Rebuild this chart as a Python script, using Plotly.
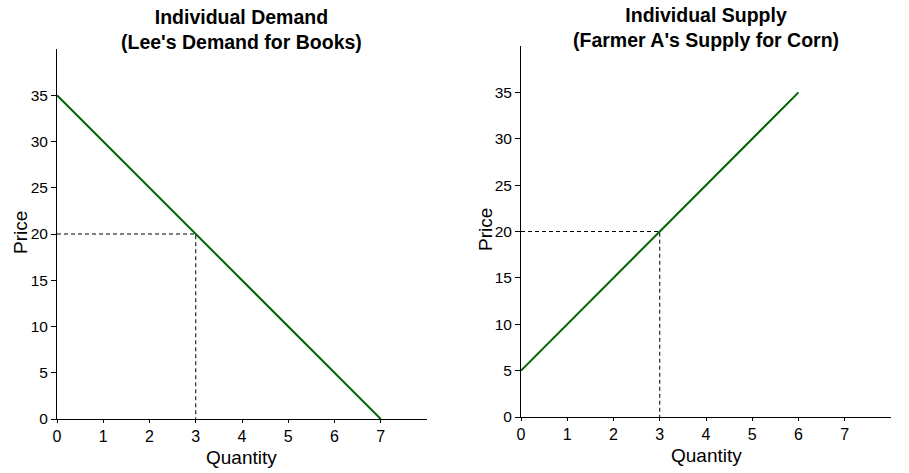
import plotly.graph_objects as go

# Data
demand_q = [0, 7]
demand_p = [35, 0]
supply_q = [0, 6]
supply_p = [5, 35]
ref_q = [0, 3, 3]
ref_p = [20, 20, 0]
x_ticks = [0, 1, 2, 3, 4, 5, 6, 7]
y_ticks = [0, 5, 10, 15, 20, 25, 30, 35]
titles = ["<b>Individual Demand<br>(Lee's Demand for Books)</b>",
          "<b>Individual Supply<br>(Farmer A's Supply for Corn)</b>"]
x_label = "Quantity"
y_label = "Price"

GREEN = "#006400"
fig = go.Figure()

fig.add_trace(go.Scatter(x=demand_q, y=demand_p, mode="lines",
                         line=dict(color=GREEN, width=2), xaxis="x", yaxis="y",
                         cliponaxis=False, showlegend=False))
fig.add_trace(go.Scatter(x=ref_q, y=ref_p, mode="lines",
                         line=dict(color="black", width=1, dash="4px,3px"), xaxis="x", yaxis="y",
                         showlegend=False))
fig.add_trace(go.Scatter(x=supply_q, y=supply_p, mode="lines",
                         line=dict(color=GREEN, width=2), xaxis="x2", yaxis="y2",
                         cliponaxis=False, showlegend=False))
fig.add_trace(go.Scatter(x=ref_q, y=ref_p, mode="lines",
                         line=dict(color="black", width=1, dash="4px,3px"), xaxis="x2", yaxis="y2",
                         showlegend=False))

font_family = "Liberation Sans, Arial, sans-serif"
base = dict(showgrid=False, zeroline=False, showline=True, linecolor="black",
            linewidth=1, ticks="outside", tickcolor="black", automargin=False)
xcommon = dict(base, ticklen=3, tickfont=dict(size=16, color="black", family=font_family))
ycommon = dict(base, ticklen=5, tickfont=dict(size=15.5, color="black", family=font_family))


def P(px, py):
    return px / 909, 1 - py / 473


annotations = []
for txt, (cx, cy) in zip(titles, [(241, 4), (706, 2)]):
    ax, ay = P(cx, cy)
    annotations.append(dict(text=txt, x=ax, y=ay, xref="paper", yref="paper",
                            xanchor="center", yanchor="top", showarrow=False,
                            font=dict(size=19.5, color="black", family=font_family)))
for (cx, cy) in [(241, 457), (706, 455)]:
    ax, ay = P(cx, cy)
    annotations.append(dict(text=x_label, x=ax, y=ay, xref="paper", yref="paper",
                            xanchor="center", yanchor="middle", showarrow=False,
                            font=dict(size=19, color="black", family=font_family)))
for (cx, cy) in [(20, 233), (486, 230)]:
    ax, ay = P(cx, cy)
    annotations.append(dict(text=y_label, x=ax, y=ay, xref="paper", yref="paper",
                            xanchor="center", yanchor="middle", showarrow=False, textangle=-90,
                            font=dict(size=19, color="black", family=font_family)))

fig.update_layout(
    width=909, height=473, margin=dict(l=0, r=0, t=0, b=0),
    paper_bgcolor="white", plot_bgcolor="white",
    font=dict(family=font_family, color="black"),
    xaxis=dict(domain=[57/909, 427/909], range=[0, 8], tickvals=x_ticks, anchor="y", **xcommon),
    yaxis=dict(domain=[54/473, 424/473], range=[0, 40], tickvals=y_ticks, anchor="x", **ycommon),
    xaxis2=dict(domain=[521/909, 891/909], range=[0, 8], tickvals=x_ticks, anchor="y2", **xcommon),
    yaxis2=dict(domain=[56/473, 427/473], range=[0, 40], tickvals=y_ticks, anchor="x2", **ycommon),
    annotations=annotations,
)

fig.write_html("out.html")
